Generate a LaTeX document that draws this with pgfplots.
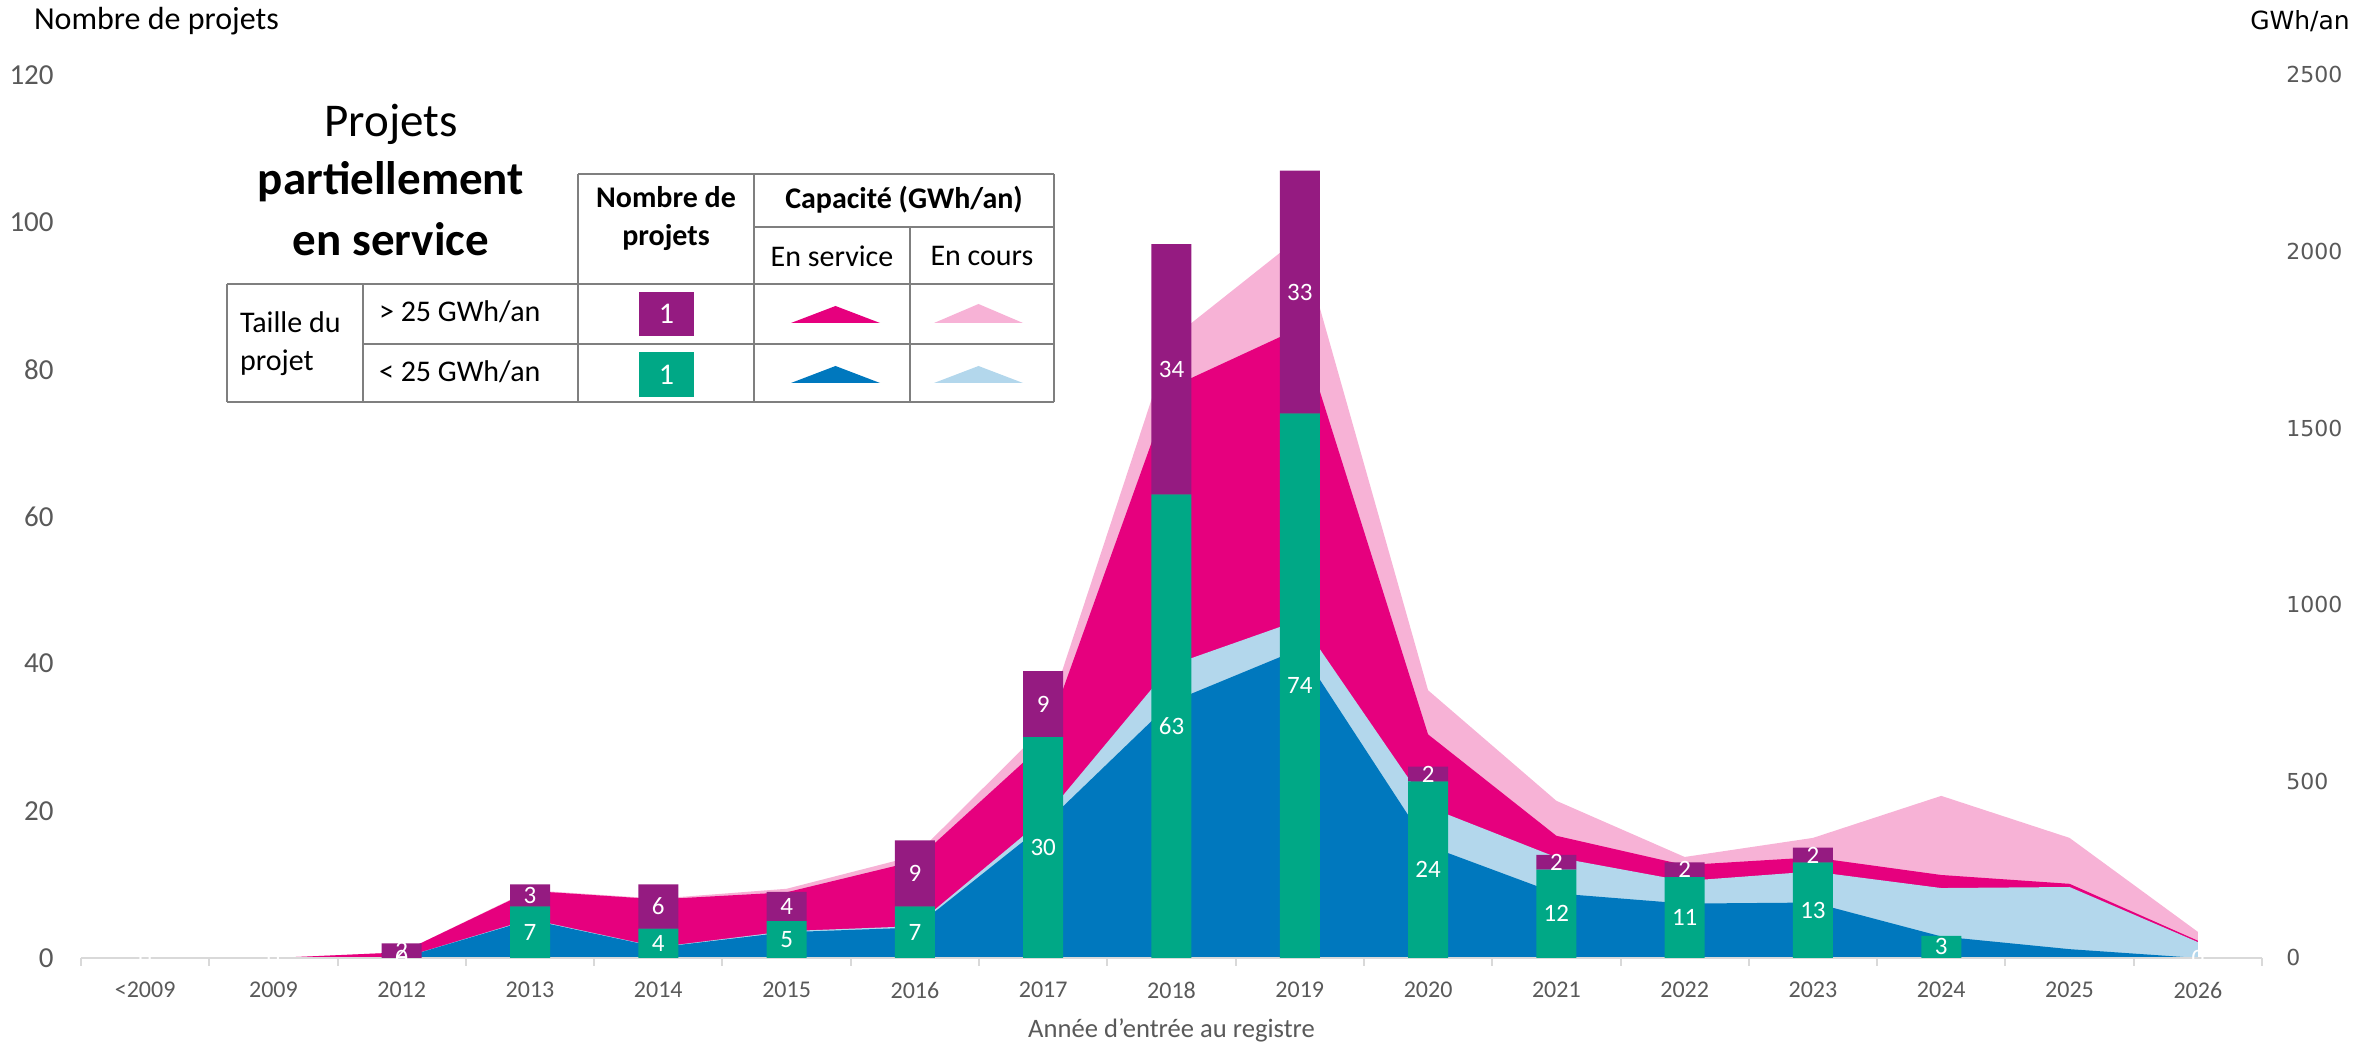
\documentclass[border=0pt]{standalone}
\usepackage{pgfplots}
\pgfplotsset{compat=1.18}
\usepackage{fontspec}
\setmainfont{Carlito}
\newfontfamily\dejavu{DejaVu Sans}
\definecolor{cgreen}{HTML}{00A886}
\definecolor{cpurple}{HTML}{951B81}
\definecolor{cmagenta}{HTML}{E6007E}
\definecolor{cpink}{HTML}{F7B2D6}
\definecolor{cblue}{HTML}{0078BE}
\definecolor{clblue}{HTML}{B3D7EC}
\definecolor{axisgray}{HTML}{D9D9D9}
\definecolor{tickgray}{HTML}{595959}
\definecolor{tablegray}{HTML}{7F7F7F}
\pgfplotsset{common/.style={
  width=1090.5pt, height=441.5pt, scale only axis,
  at={(40.5pt,42.5pt)}, anchor=south west,
  xmin=-0.5, xmax=16.5,
  /pgf/number format/assume math mode=true,
  /pgf/number format/1000 sep={},
}}
\begin{document}
\begin{tikzpicture}
\path[use as bounding box] (0,0) rectangle (1187pt,521.5pt);
% ---- capacity areas (right axis, GWh/an)
\begin{axis}[common,
  ymin=0, ymax=2500,
  axis y line*=right, axis x line=none,
  y axis line style={draw=none},
  ytick={0,500,1000,1500,2000,2500},
  major tick length=0pt,
  yticklabel style={font=\dejavu\fontsize{11}{12}\selectfont, text=tickgray, anchor=west, inner sep=0pt, xshift=12pt},
]
\addplot[fill=cpink, draw=none] coordinates {(0,0)(1,0)(2,16)(3,192)(4,168)(5,196)(6,289)(7,650)(8,1753)(9,2041)(10,758)(11,445)(12,286)(13,340)(14,459)(15,340)(16,74)} \closedcycle;
\addplot[fill=cmagenta, draw=none] coordinates {(0,0)(1,0)(2,16)(3,190)(4,166)(5,186)(6,274)(7,605)(8,1616)(9,1784)(10,633)(11,346)(12,263)(13,285)(14,235)(15,210)(16,49)} \closedcycle;
\addplot[fill=clblue, draw=none] coordinates {(0,0)(1,0)(2,0)(3,110)(4,31)(5,76)(6,90)(7,393)(8,829)(9,957)(10,428)(11,285)(12,218)(13,245)(14,198)(15,201)(16,45)} \closedcycle;
\addplot[fill=cblue, draw=none] coordinates {(0,0)(1,0)(2,0)(3,108)(4,30)(5,73)(6,86)(7,375)(8,725)(9,875)(10,318)(11,183)(12,154)(13,157)(14,61)(15,25)(16,0)} \closedcycle;
\end{axis}
% ---- number of projects (left axis)
\begin{axis}[common,
  ymin=0, ymax=120,
  axis y line*=left, axis x line*=bottom,
  y axis line style={draw=none},
  x axis line style={draw=axisgray, line width=1.2pt},
  ytick={0,20,...,120},
  xtick={0,...,16},
  xticklabels={<2009,2009,2012,2013,2014,2015,2016,2017,2018,2019,2020,2021,2022,2023,2024,2025,2026},
  minor xtick={-0.5,0.5,...,16.5},
  major tick length=0pt, minor tick length=4pt,
  tick align=outside,
  minor tick style={draw=axisgray, line width=1pt},
  yticklabel style={font=\fontsize{14.5}{16}\selectfont, text=tickgray, anchor=east, inner sep=0pt, xshift=-13.5pt},
  xticklabel style={font=\fontsize{12}{14}\selectfont, text=tickgray, anchor=north, inner sep=0pt, yshift=-12pt},
  xlabel={Année d’entrée au registre},
  xlabel style={at={(axis description cs:0.5,0)}, anchor=base, yshift=-40pt, font=\fontsize{13.3}{15}\selectfont, text=tickgray},
  ybar stacked, bar width=20pt,
]
\addplot[fill=cgreen, draw=none] coordinates {(0,0)(1,0)(2,0)(3,7)(4,4)(5,5)(6,7)(7,30)(8,63)(9,74)(10,24)(11,12)(12,11)(13,13)(14,3)(15,0)(16,0)};
\addplot[fill=cpurple, draw=none] coordinates {(0,0)(1,0)(2,2)(3,3)(4,6)(5,4)(6,9)(7,9)(8,34)(9,33)(10,2)(11,2)(12,2)(13,2)(14,0)(15,0)(16,0)};
\end{axis}
% ---- data labels
\begin{axis}[common, ymin=0, ymax=120, hide axis]
\addplot[draw=none, mark=none, nodes near coords, point meta=explicit symbolic,
  nodes near coords style={anchor=center, text=white, inner sep=0pt, font=\fontsize{12.5}{14}\selectfont}]
  coordinates {(0,0)[0] (1,0)[0] (2,0)[0] (16,0)[0]
  (2,1)[2] (3,3.5)[7] (3,8.5)[3] (4,2)[4] (4,7)[6] (5,2.5)[5] (5,7)[4]
  (6,3.5)[7] (6,11.5)[9] (7,15)[30] (7,34.5)[9] (8,31.5)[63] (8,80)[34]
  (9,37)[74] (9,90.5)[33] (10,12)[24] (10,25)[2] (11,6)[12] (11,13)[2]
  (12,5.5)[11] (12,12)[2] (13,6.5)[13] (13,14)[2] (14,1.5)[3]};
\end{axis}
% ---- titles and legend table (pixel coordinates, y downward)
\begin{scope}[x=0.5pt, y=-0.5pt, shift={(0pt,521.5pt)}]
\node[anchor=west, font=\fontsize{16}{19}\selectfont] at (27,21) {Nombre de projets};
\node[font=\dejavu\fontsize{12.5}{14}\selectfont] at (2300,21) {GWh/an};
\node[font=\fontsize{23.5}{28}\selectfont] at (391,124) {Projets};
\node[font=\bfseries\fontsize{23.5}{28}\selectfont] at (391,182) {partiellement};
\node[font=\bfseries\fontsize{23.5}{28}\selectfont] at (391,239) {en service};
\begin{scope}[draw=tablegray, line width=0.8pt]
\draw (578,174) -- (1054,174);
\draw (754,227) -- (1054,227);
\draw (227,284) -- (1054,284);
\draw (363,344) -- (1054,344);
\draw (227,402) -- (1054,402);
\draw (227,284) -- (227,402);
\draw (363,284) -- (363,402);
\draw (578,174) -- (578,402);
\draw (754,174) -- (754,402);
\draw (910,227) -- (910,402);
\draw (1054,174) -- (1054,402);
\end{scope}
\node[font=\bfseries\fontsize{15}{19}\selectfont, align=center] at (666,219) {Nombre de\\projets};
\node[font=\bfseries\fontsize{15}{18}\selectfont] at (904,200) {Capacité (GWh/an)};
\node[font=\fontsize{15}{18}\selectfont] at (832,256) {En service};
\node[font=\fontsize{15}{18}\selectfont] at (982,256) {En cours};
\node[anchor=west, align=left, font=\fontsize{15}{19}\selectfont] at (233,344) {Taille du\\projet};
\node[anchor=west, font=\fontsize{15}{18}\selectfont] at (372,312) {> 25 GWh/an};
\node[anchor=west, font=\fontsize{15}{18}\selectfont] at (372,372) {< 25 GWh/an};
\fill[cpurple] (639,292) rectangle (694,336);
\node[text=white, font=\fontsize{15}{18}\selectfont] at (666.5,314) {1};
\fill[cgreen] (639,352) rectangle (694,397);
\node[text=white, font=\fontsize{15}{18}\selectfont] at (666.5,374.5) {1};
\fill[cmagenta] (791,323) -- (880,323) -- (835.5,306) -- cycle;
\fill[cpink] (934,323) -- (1023,323) -- (978.5,304) -- cycle;
\fill[cblue] (791,383) -- (880,383) -- (835.5,366) -- cycle;
\fill[clblue] (934,383) -- (1023,383) -- (978.5,366) -- cycle;
\end{scope}
\end{tikzpicture}
\end{document}
